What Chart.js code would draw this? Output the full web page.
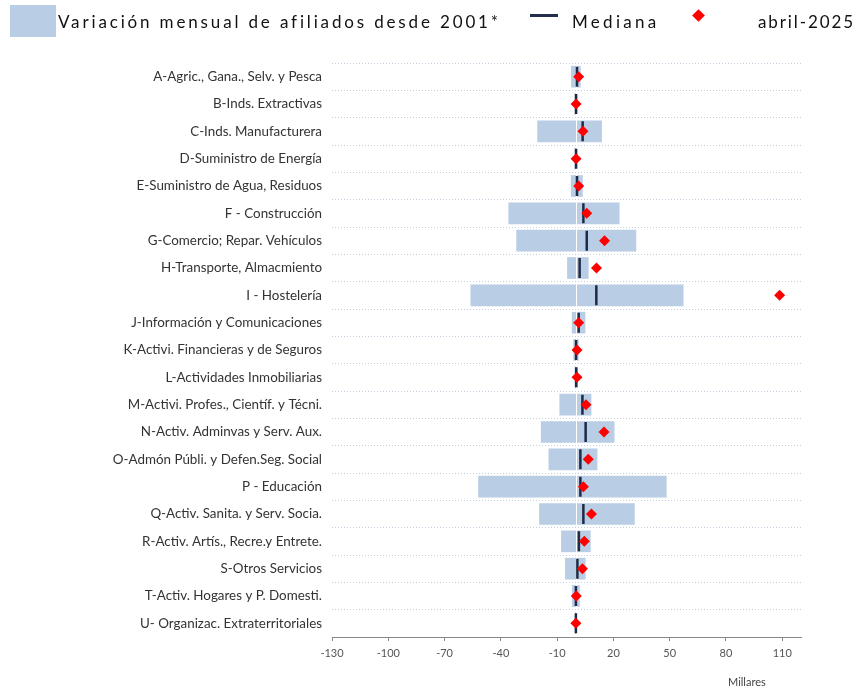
<!DOCTYPE html>
<html><head><meta charset="utf-8">
<script src="https://cdn.jsdelivr.net/npm/chart.js@4"></script>
<style>
html,body{margin:0;padding:0;background:#fff;}
#wrap{position:relative;width:859px;height:689px;overflow:hidden;}
canvas{position:absolute;left:0;top:0;}
.lg{position:absolute;font-family:Lato,'Open Sans',sans-serif;color:#111;white-space:nowrap;line-height:1;}
</style></head><body>
<div id="wrap">
<canvas id="c" width="859" height="689"></canvas>
<div class="lg" style="left:10px;top:5px;width:46px;height:32px;background:#b9cde5"></div>
<div class="lg" style="left:58px;top:13px;font-size:17px;letter-spacing:2.85px">Variación mensual de afiliados desde 2001*</div>
<div class="lg" style="left:530px;top:14px;width:28px;height:3px;background:#1f2f4d"></div>
<div class="lg" style="left:572px;top:13px;font-size:17px;letter-spacing:3.3px">Mediana</div>
<div class="lg" style="left:694px;top:11px;width:9px;height:9px;background:#ff0000;transform:rotate(45deg)"></div>
<div class="lg" style="left:758px;top:13px;font-size:17px;letter-spacing:1.9px">abril-2025</div>
<div class="lg" style="left:728px;top:676px;font-size:11px;color:#444">Millares</div>
</div>
<script>
const categories = [
  "A-Agric., Gana., Selv. y Pesca",
  "B-Inds. Extractivas",
  "C-Inds. Manufacturera",
  "D-Suministro de Energía",
  "E-Suministro de Agua, Residuos",
  "F - Construcción",
  "G-Comercio; Repar. Vehículos",
  "H-Transporte, Almacmiento",
  "I - Hostelería",
  "J-Información y Comunicaciones",
  "K-Activi. Financieras y de Seguros",
  "L-Actividades Inmobiliarias",
  "M-Activi. Profes., Científ. y Técni.",
  "N-Activ. Adminvas y Serv. Aux.",
  "O-Admón Públi. y Defen.Seg. Social",
  "P - Educación",
  "Q-Activ. Sanita. y Serv. Socia.",
  "R-Activ. Artís., Recre.y Entrete.",
  "S-Otros Servicios",
  "T-Activ. Hogares y P. Domesti.",
  "U- Organizac. Extraterritoriales"
];
const rangeMin = [-2.4, -0.5, -20.4, -0.5, -2.5, -35.8, -31.6, -4.5, -56.0, -2.0, -1.2, -0.6, -8.6, -18.5, -14.4, -51.9, -19.4, -7.7, -5.6, -1.9, -0.3];
const rangeMax = [2.4, 0.5, 13.7, 0.5, 3.5, 23.1, 32.0, 6.6, 57.2, 4.9, 1.3, 0.8, 8.1, 20.4, 11.3, 48.2, 31.2, 7.7, 5.0, 1.9, 0.3];
const median = [0.6, 0.1, 3.6, 0.1, 0.6, 4.0, 5.8, 2.0, 10.9, 1.5, 0.1, 0.2, 3.5, 5.2, 2.4, 2.4, 4.0, 1.6, 0.8, 0.0, 0.0];
const april2025 = [1.5, 0.1, 3.8, 0.1, 1.5, 5.8, 15.3, 11.0, 108.6, 1.5, 0.6, 0.6, 5.4, 15.0, 6.6, 4.0, 8.3, 4.5, 3.5, 0.2, 0.0];
const tickValues = [-130, -100, -70, -40, -10, 20, 50, 80, 110];

const zeroLine = {
  id: 'zeroLine',
  afterDatasetDraw(chart, args) {
    if (args.index !== 0) return;
    const ctx = chart.ctx, x = chart.scales.x.getPixelForValue(0), a = chart.chartArea;
    ctx.save();
    ctx.strokeStyle = '#ffffff';
    ctx.lineWidth = 1;
    ctx.beginPath();
    ctx.moveTo(Math.round(x) + 0.5, a.top);
    ctx.lineTo(Math.round(x) + 0.5, a.bottom);
    ctx.stroke();
    ctx.restore();
  }
};

new Chart(document.getElementById('c'), {
  type: 'bar',
  data: {
    labels: categories,
    datasets: [
      {
        label: 'Variación mensual de afiliados desde 2001*',
        data: rangeMin.map((v, i) => [v, rangeMax[i]]),
        backgroundColor: '#b9cde5',
        borderWidth: 0,
        borderSkipped: false,
        barThickness: 21,
        order: 3
      },
      {
        type: 'line',
        label: 'Mediana',
        data: median,
        showLine: false,
        pointStyle: 'line',
        rotation: 90,
        radius: 10,
        borderColor: '#1c2b47',
        backgroundColor: '#1c2b47',
        borderWidth: 2.5,
        order: 2
      },
      {
        type: 'line',
        label: 'abril-2025',
        data: april2025,
        showLine: false,
        pointStyle: 'rectRot',
        radius: 5.5,
        borderWidth: 0,
        backgroundColor: '#ff0000',
        borderColor: '#ff0000',
        order: 1
      }
    ]
  },
  options: {
    indexAxis: 'y',
    responsive: false,
    devicePixelRatio: 1,
    animation: false,
    layout: { padding: { top: 63, right: 58, left: 0, bottom: 0 } },
    plugins: { legend: { display: false }, tooltip: { enabled: false } },
    scales: {
      x: {
        type: 'linear',
        min: -130,
        max: 120,
        afterBuildTicks: s => { s.ticks = tickValues.map(v => ({ value: v })); },
        afterFit: s => { s.height = 52; },
        grid: { drawOnChartArea: false, drawTicks: true, tickLength: 4, color: '#888' },
        border: { display: true, color: '#888', width: 1 },
        ticks: { padding: 6, color: '#555', font: { family: 'Lato', size: 11 } }
      },
      y: {
        afterFit: s => { s.width = 332; },
        grid: { drawTicks: false, color: '#c3cedc', lineWidth: 1, offset: true },
        border: { display: false, dash: [1, 2] },
        ticks: { padding: 10, color: '#333', font: { family: 'Lato', size: 13.4 } }
      }
    }
  },
  plugins: [zeroLine]
});
</script>
</body></html>
